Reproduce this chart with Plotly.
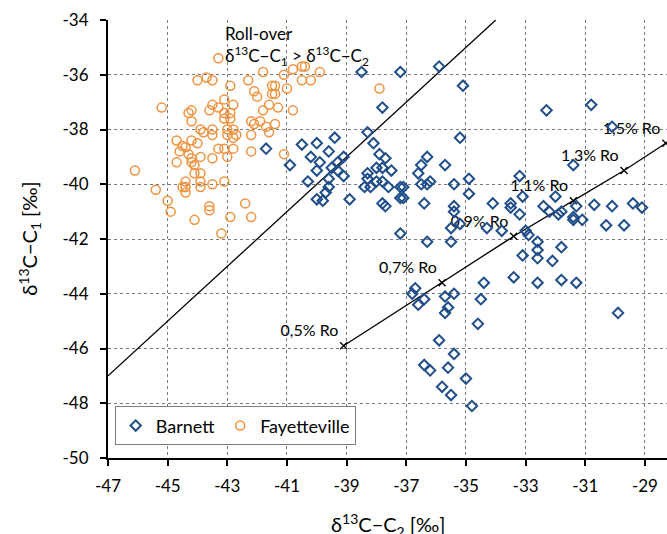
import plotly.graph_objects as go

# ---------------- data ----------------
barnett_c2 = [
    -41.7, -40.9, -40.5, -40.0, -39.4, -39.6, -40.2, -39.9, -39.1, -40.0, -40.3, -39.5, -39.3, -39.3,
    -39.1, -39.6, -39.6, -39.7, -40.0, -39.8, -38.9,
    -38.5, -37.2, -37.8, -38.3, -38.1, -37.9, -37.7, -37.8, -37.5, -38.0, -38.3, -38.3, -38.0, -37.8,
    -38.4, -38.2, -37.6, -37.8, -37.7, -37.2, -37.1, -37.2, -37.1, -37.2,
    -35.9, -35.1, -35.2, -36.6, -36.5, -36.3, -36.5, -36.3, -36.2, -35.7, -35.4, -34.9, -34.9, -36.4,
    -35.4, -35.4, -34.1, -35.5, -35.2, -34.3, -33.8, -36.3, -35.5, -36.7, -36.8, -36.6, -36.4, -35.7,
    -35.4, -35.6, -35.7, -34.4, -34.5, -34.6, -35.9, -35.4, -36.4, -36.2, -35.6, -35.0, -35.8, -35.5,
    -34.8,
    -32.3, -30.8, -30.1, -31.4, -33.5, -33.5, -33.2, -33.2, -33.1, -32.4, -32.2, -32.0, -31.9, -31.8,
    -31.4, -31.4, -31.3, -31.1, -30.7, -30.1, -29.4, -29.1, -30.3, -29.7, -33.0, -32.9, -32.6, -33.1,
    -32.6, -32.6, -32.1, -31.8, -33.4, -32.6, -31.8, -31.3, -29.9,
]
barnett_c1 = [
    -38.7, -39.3, -38.55, -38.5, -38.3, -38.8, -39.0, -39.2, -39.0, -39.5, -39.9, -39.4, -39.2, -39.5,
    -39.7, -39.8, -40.1, -40.3, -40.55, -40.6, -40.55,
    -35.9, -35.9, -37.2, -38.1, -38.5, -38.9, -39.05, -39.4, -39.5, -39.4, -39.6, -39.8, -39.9, -39.9,
    -40.1, -40.1, -40.1, -40.7, -40.8, -40.1, -40.1, -40.5, -40.5, -41.8,
    -35.7, -36.4, -38.3, -39.6, -39.3, -39.0, -40.0, -40.0, -39.9, -39.3, -40.0, -39.8, -40.35, -40.7,
    -40.8, -41.0, -40.7, -41.6, -41.45, -41.6, -41.7, -42.1, -42.1, -43.8, -44.0, -44.4, -44.2, -44.1,
    -44.0, -44.5, -44.7, -43.6, -44.2, -45.1, -45.7, -46.2, -46.6, -46.8, -46.7, -47.1, -47.4, -47.7,
    -48.1,
    -37.3, -37.1, -37.9, -39.3, -40.7, -40.85, -39.7, -41.1, -40.45, -40.8, -41.0, -40.45, -41.1, -41.0,
    -41.2, -41.3, -40.8, -41.3, -40.75, -40.8, -40.7, -40.85, -41.5, -41.5, -41.7, -41.85, -42.1, -42.6,
    -42.4, -42.7, -42.8, -42.3, -43.4, -43.6, -43.5, -43.6, -44.7,
]

fayetteville_c2 = [
    -43.3, -41.8, -41.1, -40.8, -40.5, -40.4, -39.9, -37.9, -44.0, -43.7, -43.5, -42.3, -42.9, -41.5,
    -41.4, -41.0, -40.5, -40.2, -42.1, -42.0, -41.5, -41.4, -43.1, -42.8, -43.5, -43.6, -43.3, -45.2,
    -44.3, -44.2, -44.2, -43.1, -42.9, -43.1, -42.9, -41.8, -41.6, -41.3, -40.8, -42.2, -42.1, -41.9,
    -41.7, -41.4, -43.9, -43.8, -43.5, -43.5, -43.0, -42.8, -43.0, -42.7, -42.8, -42.2, -41.6, -44.7,
    -44.2, -44.0, -44.5, -44.4, -44.6, -44.3, -44.2, -44.2, -44.1, -43.9, -43.5, -43.3, -43.1, -43.0,
    -42.8, -42.2, -41.1, -44.7, -46.1, -44.1, -43.9, -44.4, -43.9, -45.4, -44.5, -44.4, -44.4, -43.9,
    -43.5, -43.1, -45.0, -44.9, -43.6, -43.6, -42.4, -44.1, -42.9, -42.2, -43.2,
]
fayetteville_c1 = [
    -35.4, -35.9, -36.0, -35.8, -35.7, -35.7, -35.9, -36.5, -36.2, -36.1, -36.2, -36.2, -36.4, -36.4,
    -36.4, -36.5, -36.2, -36.2, -36.6, -36.8, -36.7, -36.7, -36.9, -37.1, -37.1, -37.3, -37.2, -37.2,
    -37.4, -37.3, -37.7, -37.4, -37.4, -37.6, -37.6, -37.3, -37.1, -37.2, -37.3, -37.7, -37.8, -37.7,
    -37.9, -37.8, -38.0, -38.1, -38.0, -38.2, -38.0, -38.0, -38.2, -38.2, -38.3, -38.2, -38.1, -38.4,
    -38.4, -38.5, -38.6, -38.65, -38.8, -38.9, -39.05, -39.2, -39.3, -39.0, -39.05, -38.7, -38.7, -39.0,
    -38.7, -38.8, -38.9, -39.2, -39.5, -39.6, -39.6, -39.9, -39.9, -40.2, -40.1, -40.1, -40.3, -40.1,
    -40.0, -39.9, -40.6, -41.0, -40.8, -40.95, -40.7, -41.3, -41.2, -41.2, -41.8,
]

rollover_c2 = [-47, -34]
rollover_c1 = [-47, -34]

ro_labels = ["0,5% Ro", "0,7% Ro", "0,9% Ro", "1,1% Ro", "1,3% Ro", "1,5% Ro"]
ro_c2 = [-39.1, -35.8, -33.4, -31.4, -29.7, -28.3]
ro_c1 = [-45.9, -43.6, -41.9, -40.6, -39.5, -38.5]

x_ticks = list(range(-47, -27, 2))
y_ticks = list(range(-50, -33, 2))
x_ticktext = [str(v) for v in x_ticks]
y_ticktext = [str(v) for v in y_ticks]

FONT = "Lato, 'Open Sans', 'DejaVu Sans', sans-serif"
BLUE = "#1F4E8A"
ORANGE = "#F0923E"

fig = go.Figure()

fig.add_trace(go.Scatter(
    x=rollover_c2, y=rollover_c1, mode="lines",
    line=dict(color="black", width=1.3), showlegend=False, hoverinfo="skip"))

fig.add_trace(go.Scatter(
    x=ro_c2, y=ro_c1, mode="lines+markers+text", text=ro_labels,
    textposition="top left", textfont=dict(family=FONT, size=16, color="black"),
    line=dict(color="black", width=1.3),
    marker=dict(symbol="x-thin", size=7, color="black", line=dict(color="black", width=1.3)),
    showlegend=False, cliponaxis=False))

fig.add_trace(go.Scatter(
    x=barnett_c2, y=barnett_c1, mode="markers", name="Barnett",
    marker=dict(symbol="diamond-open", size=8, color=BLUE, line=dict(color=BLUE, width=2))))

fig.add_trace(go.Scatter(
    x=fayetteville_c2, y=fayetteville_c1, mode="markers", name="Fayetteville",
    marker=dict(symbol="circle-open", size=9, color=ORANGE, line=dict(color=ORANGE, width=1.5))))

axis_common = dict(
    showgrid=True, gridcolor="#7a7a7a", griddash="dot", gridwidth=1,
    showline=True, linecolor="black", linewidth=2,
    ticks="outside", ticklen=6, tickwidth=1.5, tickcolor="black",
    tickfont=dict(family=FONT, size=17, color="black"),
    zeroline=False, mirror=False,
)

fig.update_layout(
    width=667, height=534,
    margin=dict(l=108, r=0, t=20, b=76, pad=0),
    plot_bgcolor="white", paper_bgcolor="white",
    font=dict(family=FONT, color="black"),
    xaxis=dict(range=[-47, -28.26], tickvals=x_ticks, ticktext=x_ticktext,
               ticklabelstandoff=6, **axis_common),
    yaxis=dict(range=[-50, -34], tickvals=y_ticks, ticktext=y_ticktext,
               ticklabelstandoff=8, **axis_common),
    legend=dict(
        orientation="h", x=0.012, y=0.118, xanchor="left", yanchor="top",
        bgcolor="white", bordercolor="#7f7f7f", borderwidth=1,
        font=dict(family=FONT, size=18, color="black"),
        itemwidth=30, tracegroupgap=0,
    ),
    annotations=[
        dict(text="δ<sup>13</sup>C−C<sub>2</sub> [‰]", xref="paper", yref="paper",
             x=0.5, y=-0.153, xanchor="center", yanchor="middle", showarrow=False,
             font=dict(family=FONT, size=20, color="black")),
        dict(text="δ<sup>13</sup>C−C<sub>1</sub> [‰]", xref="paper", yref="paper",
             x=-0.14, y=0.5, xanchor="center", yanchor="middle", showarrow=False,
             textangle=-90, font=dict(family=FONT, size=20, color="black")),
        dict(text="Roll-over<br>δ<sup>13</sup>C−C<sub>1</sub> > δ<sup>13</sup>C−C<sub>2</sub>",
             x=-43.15, y=-34.05, xref="x", yref="y", xanchor="left", yanchor="top",
             align="left", showarrow=False,
             font=dict(family=FONT, size=17, color="black")),
    ],
)

fig.write_html("out.html", config={"displayModeBar": False},
               post_script="document.body.style.margin='0px';")
